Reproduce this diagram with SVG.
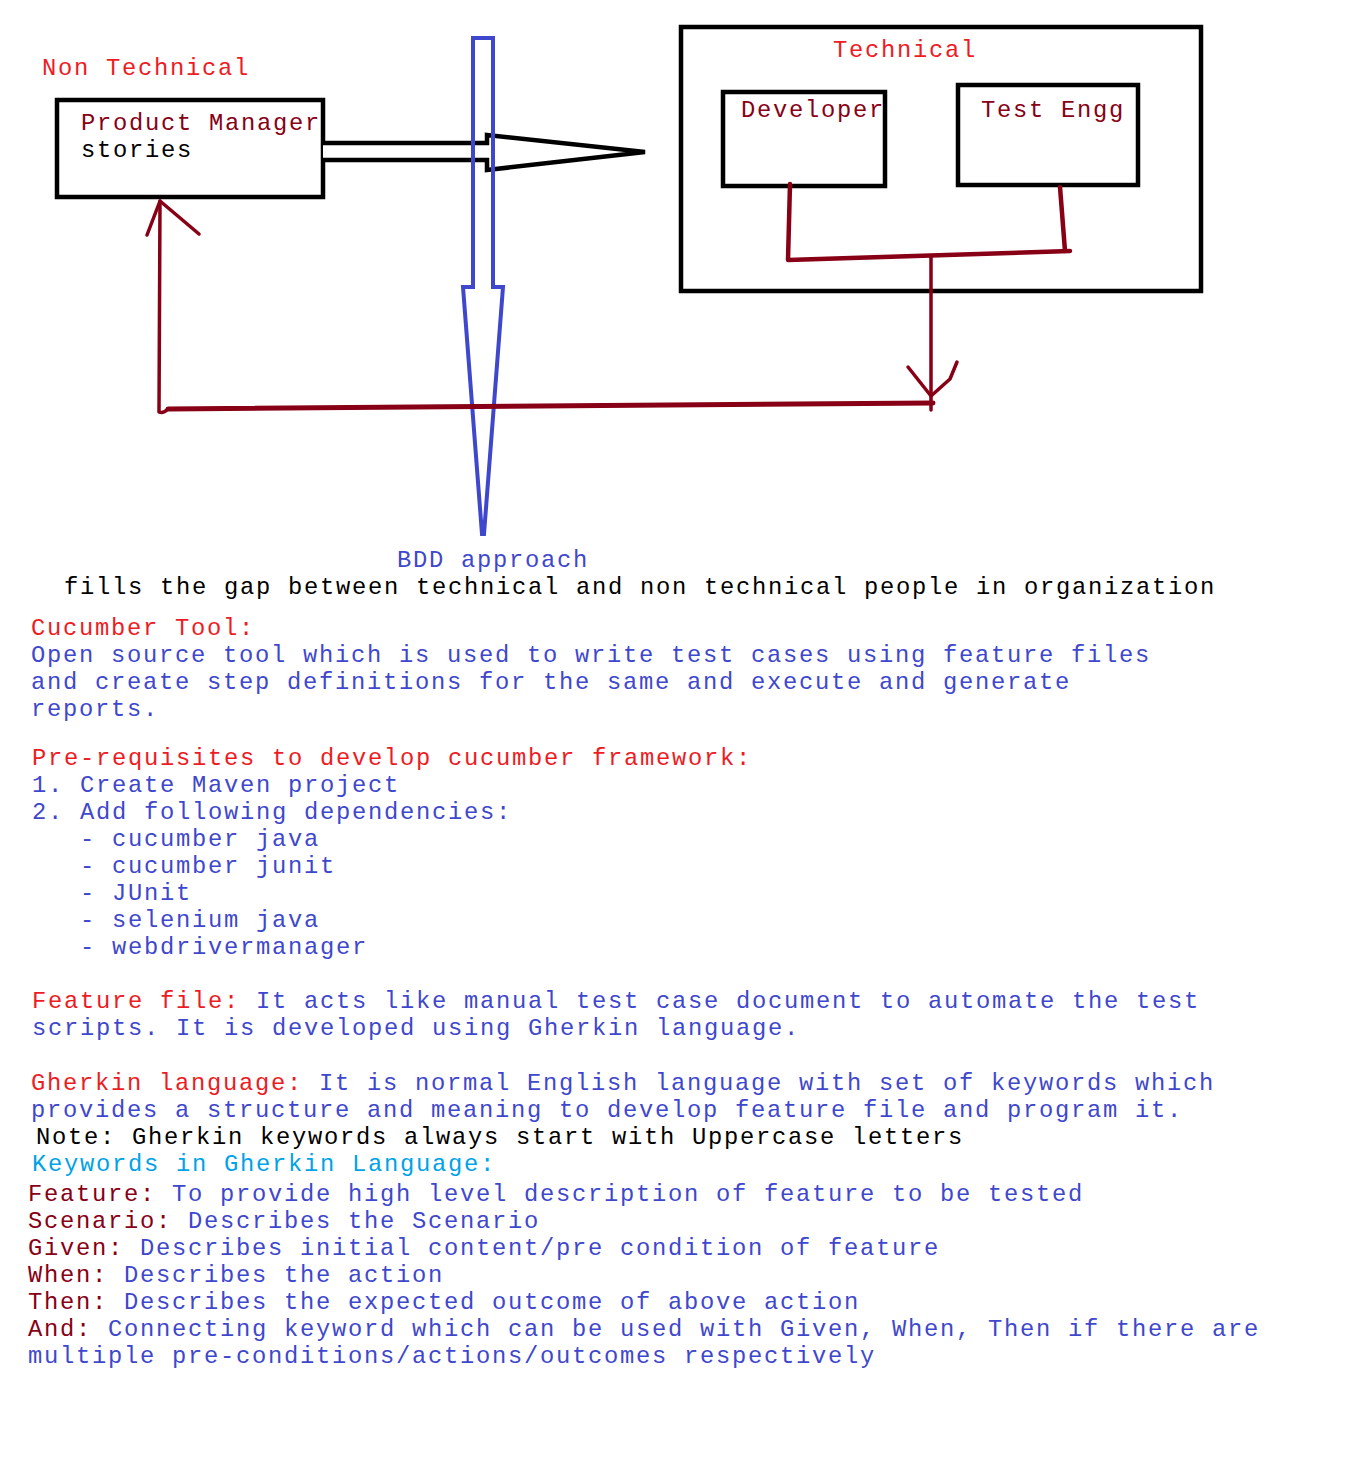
<svg xmlns="http://www.w3.org/2000/svg" width="1351" height="1474" viewBox="0 0 1351 1474">
<style>
text{font-family:"Liberation Mono","DejaVu Sans Mono",monospace;font-size:23.8px;letter-spacing:1.72px;white-space:pre}
.red{fill:#ED1C24}
.dred{fill:#880015}
.blue{fill:#3F48CC}
.lblue{fill:#00A2E8}
.blk{fill:#000}
.box{fill:none;stroke:#000;stroke-width:4.5}
.conn{fill:none;stroke:#880015;stroke-linecap:round;stroke-linejoin:round}
</style>
<rect width="1351" height="1474" fill="#fff"/>

<g id="node-non-technical">
<text x="42" y="75" class="red">Non Technical</text>
</g>

<g id="node-product-manager">
<rect x="57" y="100" width="266" height="97" class="box"/>
<text x="81" y="130" class="dred">Product Manager</text>
<text x="81" y="157" class="blk">stories</text>
</g>

<g id="node-technical">
<rect x="681" y="27" width="520" height="264" class="box"/>
<text x="833" y="57" class="red">Technical</text>
</g>

<g id="node-developer">
<rect x="723" y="92" width="162" height="94" class="box"/>
<text x="741" y="117" class="dred">Developer</text>
</g>

<g id="node-test-engg">
<rect x="958" y="85" width="180" height="100" class="box"/>
<text x="981" y="117" class="dred">Test Engg</text>
</g>

<g id="connectors">
<path d="M323,143 L487,143 L487,135 L645,152 L487,170 L487,160 L323,160" fill="#fff" stroke="#000" stroke-width="4.5" stroke-linejoin="miter"/>
<path d="M473,38 L493,38 L493,287 L503,287 L484,534 L482,534 L463,287 L473,287 Z" fill="none" stroke="#3F48CC" stroke-width="4"/>
<path d="M790,184 L788,260 L1070,251" class="conn" stroke-width="4.5"/>
<path d="M1060,187 L1065,251" class="conn" stroke-width="4.5"/>
<path d="M931,256 L931,410" class="conn" stroke-width="3.5"/>
<path d="M908,367 L931,396 M957,362 L950,379 L931,396" class="conn" stroke-width="3.5"/>
<path d="M933,403 L168,409" class="conn" stroke-width="5"/>
<path d="M168,409 Q163,414 159,412 L160,201" class="conn" stroke-width="3.5"/>
<path d="M147,235 L160,201 L199,234" class="conn" stroke-width="3.5"/>
</g>

<g id="notes">
<text x="397" y="567" class="blue">BDD approach</text>
<text x="64" y="594" class="blk">fills the gap between technical and non technical people in organization</text>
<text x="31" y="635" class="red">Cucumber Tool:</text>
<text x="31" y="662" class="blue">Open source tool which is used to write test cases using feature files</text>
<text x="31" y="689" class="blue">and create step definitions for the same and execute and generate</text>
<text x="31" y="716" class="blue">reports.</text>
<text x="32" y="765" class="red">Pre-requisites to develop cucumber framework:</text>
<text x="32" y="792" class="blue">1. Create Maven project</text>
<text x="32" y="819" class="blue">2. Add following dependencies:</text>
<text x="32" y="846" class="blue">   - cucumber java</text>
<text x="32" y="873" class="blue">   - cucumber junit</text>
<text x="32" y="900" class="blue">   - JUnit</text>
<text x="32" y="927" class="blue">   - selenium java</text>
<text x="32" y="954" class="blue">   - webdrivermanager</text>
<text x="32" y="1008"><tspan class="red">Feature file:</tspan><tspan class="blue"> It acts like manual test case document to automate the test</tspan></text>
<text x="32" y="1035" class="blue">scripts. It is developed using Gherkin language.</text>
<text x="31" y="1090"><tspan class="red">Gherkin language:</tspan><tspan class="blue"> It is normal English language with set of keywords which</tspan></text>
<text x="31" y="1117" class="blue">provides a structure and meaning to develop feature file and program it.</text>
<text x="36" y="1144" class="blk">Note: Gherkin keywords always start with Uppercase letters</text>
<text x="32" y="1171" class="lblue">Keywords in Gherkin Language:</text>
<text x="28" y="1201"><tspan class="dred">Feature:</tspan><tspan class="blue"> To provide high level description of feature to be tested</tspan></text>
<text x="28" y="1228"><tspan class="dred">Scenario:</tspan><tspan class="blue"> Describes the Scenario</tspan></text>
<text x="28" y="1255"><tspan class="dred">Given:</tspan><tspan class="blue"> Describes initial content/pre condition of feature</tspan></text>
<text x="28" y="1282"><tspan class="dred">When:</tspan><tspan class="blue"> Describes the action</tspan></text>
<text x="28" y="1309"><tspan class="dred">Then:</tspan><tspan class="blue"> Describes the expected outcome of above action</tspan></text>
<text x="28" y="1336"><tspan class="dred">And:</tspan><tspan class="blue"> Connecting keyword which can be used with Given, When, Then if there are</tspan></text>
<text x="28" y="1363" class="blue">multiple pre-conditions/actions/outcomes respectively</text>
</g>
</svg>
